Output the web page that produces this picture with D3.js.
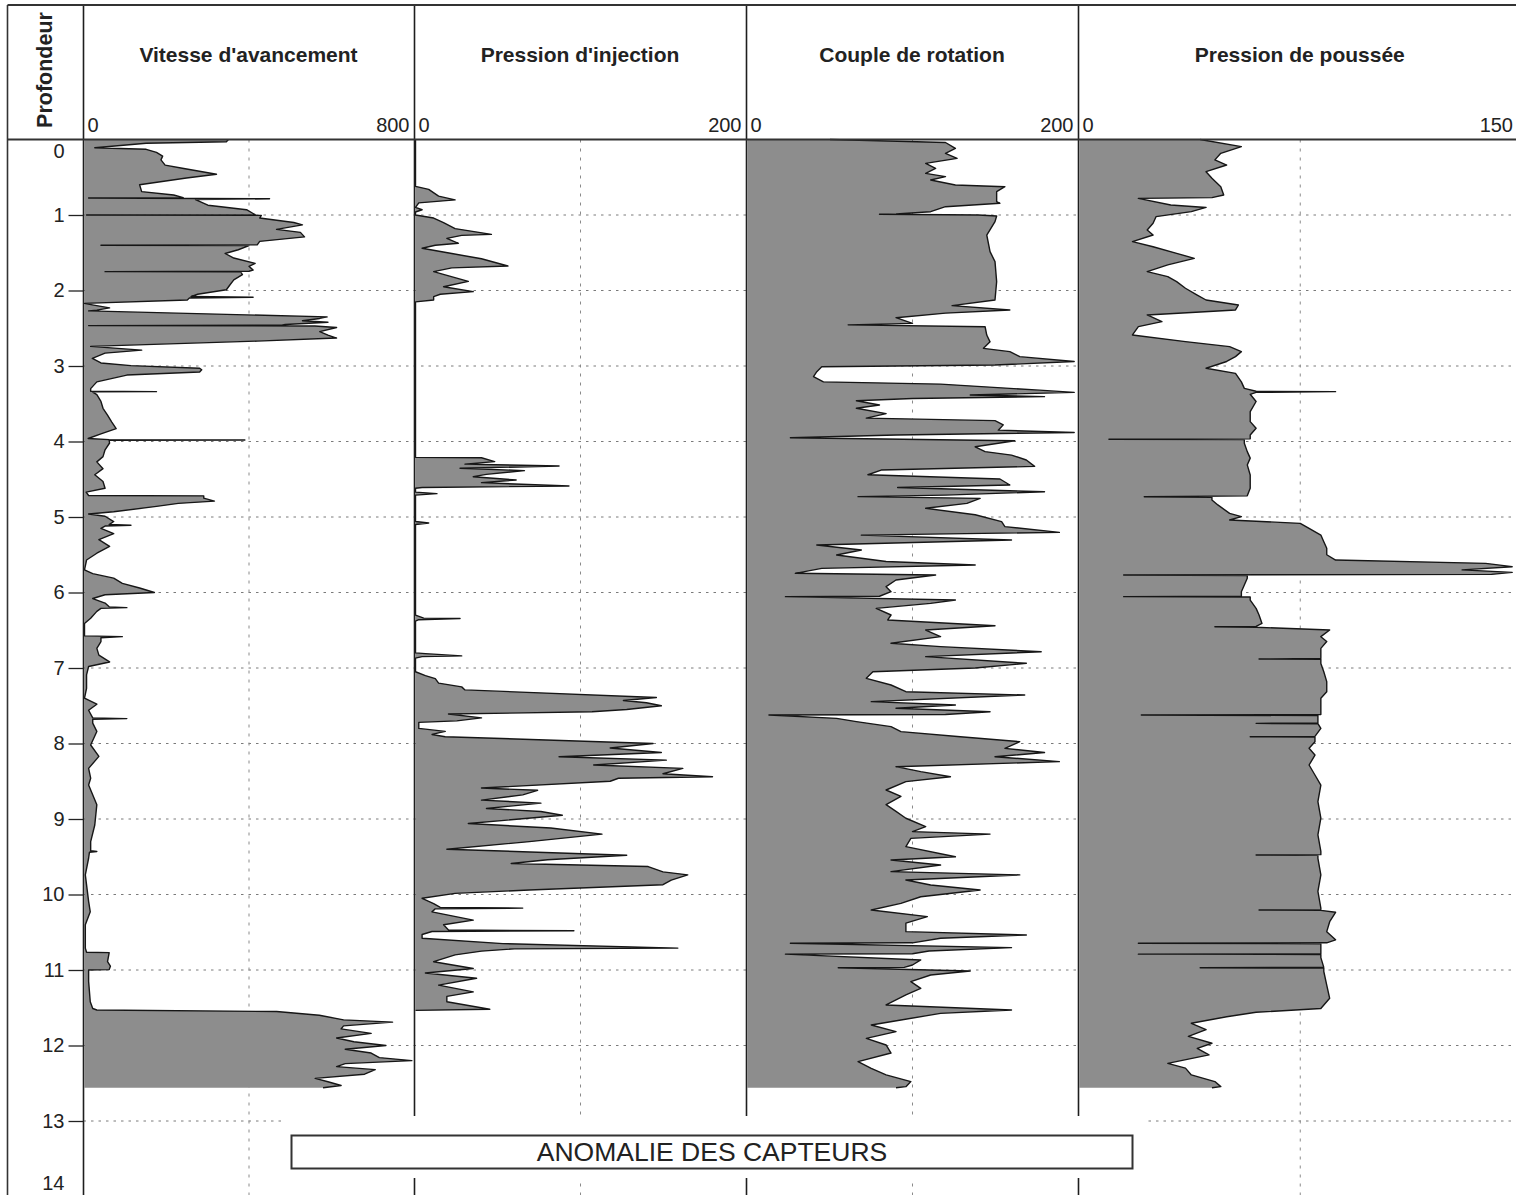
<!DOCTYPE html>
<html>
<head>
<meta charset="utf-8">
<script src="https://cdn.jsdelivr.net/npm/d3@7"></script>
<style>
  body { margin: 0; background: #fff; }
  svg { display: block; }
  text { font-family: "Liberation Sans", Arial, Helvetica, sans-serif; fill: #222; }
</style>
</head>
<body>
<svg id="chart" width="1516" height="1195"></svg>
<script>
// ---- data: [depth (m), value] ----
const depthTicks = d3.range(0, 15);
const depthLabel = "Profondeur";
const panelTitles = ["Vitesse d'avancement", "Pression d'injection", "Couple de rotation", "Pression de poussée"];
const panelMax = [800, 200, 200, 150];
const sensorNote = "ANOMALIE DES CAPTEURS";

const vitesse = [
  [0,350],[0.03,345],[0.05,150],[0.11,25],[0.13,150],[0.17,175],[0.22,190],[0.27,186],[0.34,196],[0.38,238],
  [0.46,321],[0.51,248],[0.60,134],[0.69,139],[0.735,217],[0.77,240],[0.775,10],[0.785,450],[0.795,270],[0.87,300],
  [0.89,332],[0.93,394],[0.98,410],[0.995,415],[1.0,5],[1.005,430],[1.04,426],[1.10,509],[1.13,530],[1.19,467],
  [1.23,525],[1.29,535],[1.35,426],[1.395,420],[1.40,40],[1.405,400],[1.46,374],[1.51,342],[1.57,363],[1.64,415],
  [1.68,400],[1.73,410],[1.745,400],[1.75,50],[1.755,380],[1.79,384],[1.86,363],[1.93,353],[1.99,345],[2.05,275],
  [2.08,259],[2.09,410],[2.10,255],[2.125,250],[2.17,0],[2.19,19],[2.23,61],[2.26,30],[2.27,10],[2.35,590],
  [2.37,572],[2.40,530],[2.42,592],[2.45,488],[2.46,480],[2.465,10],[2.47,560],[2.49,613],[2.545,572],[2.59,592],
  [2.63,613],[2.67,420],[2.74,15],[2.79,139],[2.83,50],[2.90,19],[2.96,40],[2.995,113],[3.03,280],[3.05,285],
  [3.08,280],[3.12,103],[3.21,30],[3.30,15],[3.335,15],[3.34,175],[3.345,20],[3.38,30],[3.47,40],[3.56,45],
  [3.65,56],[3.74,66],[3.83,77],[3.90,40],[3.96,9],[3.975,60],[3.98,390],[3.985,60],[4.02,61],[4.11,50],
  [4.20,45],[4.27,30],[4.36,45],[4.44,25],[4.53,45],[4.62,50],[4.67,4],[4.715,10],[4.72,290],[4.75,290],
  [4.79,316],[4.82,228],[4.86,175],[4.93,71],[4.96,10],[4.99,50],[5.06,71],[5.10,60],[5.11,113],[5.12,50],
  [5.15,40],[5.22,71],[5.30,35],[5.39,61],[5.48,30],[5.57,5],[5.70,0],[5.75,20],[5.81,71],[5.88,92],
  [5.94,134],[6.0,170],[6.03,50],[6.08,20],[6.14,50],[6.19,60],[6.20,103],[6.21,40],[6.25,30],[6.34,15],
  [6.41,0],[6.575,0],[6.585,92],[6.60,40],[6.65,40],[6.74,30],[6.83,35],[6.92,61],[6.98,10],[7.09,5],
  [7.27,5],[7.40,0],[7.48,30],[7.56,10],[7.66,20],[7.67,103],[7.68,20],[7.73,20],[7.84,30],[8.02,15],
  [8.17,35],[8.33,10],[8.46,15],[8.55,10],[8.81,30],[9.08,25],[9.30,15],[9.42,15],[9.43,30],[9.44,12],
  [9.52,10],[9.74,2],[10.09,10],[10.23,14],[10.40,2],[10.71,2],[10.765,5],[10.77,60],[10.89,56],[10.95,63],
  [10.995,60],[11.0,10],[11.15,10],[11.42,14],[11.51,20],[11.53,30],[11.55,467],[11.60,571],[11.66,630],[11.69,749],
  [11.74,630],[11.78,624],[11.84,697],[11.90,613],[11.95,655],[12.0,733],[12.05,634],[12.10,697],[12.16,717],[12.20,796],
  [12.24,634],[12.28,613],[12.32,707],[12.38,681],[12.435,561],[12.48,592],[12.53,624],[12.56,580]
];

const injection = [
  [0,0],[0.62,0],[0.66,8],[0.75,14],[0.80,24],[0.84,2],[0.90,0],[0.93,4],[0.96,0],[1.0,0],
  [1.04,11],[1.10,17],[1.18,24],[1.256,46],[1.27,28],[1.31,19],[1.375,26],[1.40,12],[1.44,4],[1.51,22],
  [1.58,40],[1.675,56],[1.70,22],[1.75,11],[1.88,32],[1.95,17],[2.015,35],[2.05,15],[2.08,11],[2.125,11],
  [2.15,0],[4.21,0],[4.215,40],[4.267,48],[4.30,30],[4.325,87],[4.355,27],[4.386,66],[4.435,43],[4.466,35],
  [4.51,61],[4.545,40],[4.59,93],[4.61,4],[4.62,0],[4.67,0],[4.69,13],[4.71,0],[5.06,0],[5.08,8],
  [5.10,0],[6.30,0],[6.34,5],[6.345,27],[6.36,2],[6.38,0],[6.80,0],[6.81,6],[6.84,28],[6.85,4],
  [6.87,0],[7.05,0],[7.10,6],[7.14,12],[7.20,14],[7.25,28],[7.29,30],[7.39,146],[7.43,126],[7.46,140],
  [7.50,149],[7.55,128],[7.58,107],[7.61,20],[7.66,40],[7.70,25],[7.72,2],[7.80,2],[7.84,18],[7.88,10],
  [7.91,18],[8.0,144],[8.06,118],[8.12,149],[8.175,87],[8.22,152],[8.285,108],[8.33,162],[8.40,150],[8.44,180],
  [8.46,123],[8.50,118],[8.59,40],[8.62,74],[8.68,65],[8.75,40],[8.79,76],[8.86,43],[8.90,76],[8.95,89],
  [9.06,32],[9.12,82],[9.20,113],[9.30,69],[9.40,19],[9.48,128],[9.54,80],[9.59,58],[9.63,141],[9.70,150],
  [9.74,165],[9.81,155],[9.87,150],[9.94,69],[9.985,24],[10.05,4],[10.12,11],[10.17,15],[10.18,65],[10.19,12],
  [10.23,10],[10.34,35],[10.40,17],[10.47,20],[10.48,96],[10.49,10],[10.53,4],[10.58,4],[10.65,53],[10.71,159],
  [10.72,60],[10.75,40],[10.80,24],[10.89,11],[10.98,35],[11.04,6],[11.11,37],[11.20,14],[11.29,35],[11.35,19],
  [11.42,19],[11.52,45],[11.535,0]
];

const couple = [
  [0,50],[0.04,120],[0.117,126],[0.183,120],[0.25,127],[0.316,108],[0.382,114],[0.448,108],[0.492,120],[0.536,111],
  [0.603,126],[0.625,156],[0.69,151],[0.823,151],[0.845,153],[0.89,120],[0.956,111],[0.985,90],[0.99,80],[1.0,140],
  [1.013,151],[1.088,150],[1.265,145],[1.485,147],[1.618,150],[1.883,151],[2.126,150],[2.20,124],[2.258,159],[2.30,120],
  [2.36,90],[2.435,100],[2.455,61],[2.48,144],[2.59,145],[2.68,147],[2.766,143],[2.81,159],[2.876,165],[2.94,198],
  [2.987,150],[3.01,45],[3.075,42],[3.14,40],[3.21,46],[3.24,117],[3.32,177],[3.35,198],[3.384,135],[3.406,180],
  [3.43,100],[3.46,66],[3.516,80],[3.56,66],[3.63,84],[3.69,72],[3.724,150],[3.78,155],[3.85,152],[3.88,198],
  [3.914,90],[3.95,26],[3.99,162],[4.07,138],[4.134,144],[4.18,160],[4.245,169],[4.33,174],[4.378,81],[4.44,73],
  [4.497,153],[4.576,159],[4.61,91],[4.665,180],[4.71,120],[4.73,67],[4.753,141],[4.82,133],[4.885,108],[4.97,138],
  [5.062,154],[5.128,156],[5.203,189],[5.24,69],[5.305,160],[5.37,42],[5.437,69],[5.503,54],[5.59,84],[5.636,138],
  [5.68,45],[5.746,29],[5.768,114],[5.835,90],[5.923,84],[5.989,87],[6.05,80],[6.055,23],[6.10,126],[6.144,111],
  [6.21,78],[6.298,87],[6.364,85],[6.44,150],[6.497,108],[6.585,117],[6.673,87],[6.717,117],[6.784,178],[6.85,108],
  [6.938,169],[7.0,138],[7.049,76],[7.137,72],[7.225,87],[7.314,96],[7.358,168],[7.446,75],[7.49,126],[7.534,90],
  [7.579,147],[7.615,120],[7.623,13],[7.667,54],[7.71,66],[7.777,87],[7.843,93],[7.91,129],[7.976,165],[8.064,156],
  [8.12,180],[8.175,150],[8.24,189],[8.307,90],[8.373,105],[8.44,123],[8.505,96],[8.616,84],[8.70,93],[8.81,84],
  [8.90,90],[8.99,96],[9.10,108],[9.167,100],[9.20,147],[9.256,99],[9.366,96],[9.50,126],[9.543,87],[9.61,117],
  [9.697,87],[9.74,165],[9.808,96],[9.874,111],[9.94,141],[10.03,105],[10.117,93],[10.205,75],[10.293,109],[10.38,96],
  [10.492,96],[10.536,169],[10.58,117],[10.64,100],[10.646,26],[10.704,160],[10.748,110],[10.785,100],[10.79,23],[10.867,105],
  [10.934,100],[10.965,95],[10.97,55],[11.013,135],[11.066,111],[11.154,99],[11.243,105],[11.33,96],[11.463,84],[11.53,160],
  [11.574,117],[11.662,93],[11.728,75],[11.817,90],[11.905,72],[11.993,84],[12.10,87],[12.214,67],[12.302,75],[12.39,84],
  [12.478,99],[12.545,96],[12.56,90]
];

const poussee = [
  [0,41],[0.095,55],[0.183,48],[0.27,46],[0.338,50],[0.426,43],[0.514,45],[0.625,48],[0.735,49],[0.77,45],
  [0.78,20],[0.868,31],[0.90,43],[0.956,38],[1.022,26],[1.11,25],[1.198,23],[1.265,25],[1.353,18],[1.42,25],
  [1.508,33],[1.574,39],[1.66,30],[1.75,23],[1.816,30],[1.883,33],[1.97,36],[2.06,40],[2.126,43],[2.192,54],
  [2.258,53],[2.324,23],[2.413,28],[2.479,20],[2.589,18],[2.677,36],[2.744,51],[2.81,55],[2.876,53],[2.94,50],
  [3.03,43],[3.097,53],[3.21,55],[3.296,56],[3.335,60],[3.34,87],[3.35,60],[3.375,58],[3.47,60],[3.605,58],
  [3.737,58],[3.825,60],[3.914,58],[3.965,58],[3.97,10],[3.975,56],[4.024,56],[4.134,57],[4.22,58],[4.31,57],
  [4.444,58],[4.62,58],[4.72,57],[4.731,22],[4.74,45],[4.775,45],[4.84,47],[4.952,51],[4.996,55],[5.04,51],
  [5.084,75],[5.15,78],[5.239,82],[5.327,83],[5.415,84],[5.50,84],[5.57,87],[5.614,138],[5.658,147],[5.70,130],
  [5.733,147],[5.76,140],[5.768,15],[5.775,57],[5.812,57],[5.90,56],[5.99,55],[6.05,55],[6.055,15],[6.06,58],
  [6.10,58],[6.21,60],[6.298,61],[6.41,62],[6.45,60],[6.453,46],[6.46,60],[6.497,85],[6.585,82],[6.65,84],
  [6.74,82],[6.828,82],[6.875,82],[6.88,61],[6.885,82],[6.94,82],[7.049,83],[7.18,84],[7.314,84],[7.40,82],
  [7.534,82],[7.615,82],[7.623,21],[7.63,81],[7.667,81],[7.728,81],[7.733,60],[7.738,81],[7.80,82],[7.905,80],
  [7.91,58],[7.915,80],[7.976,80],[8.064,78],[8.153,80],[8.285,78],[8.417,80],[8.55,82],[8.77,81],[8.99,82],
  [9.21,81],[9.43,82],[9.472,82],[9.477,60],[9.482,81],[9.52,81],[9.74,82],[9.96,81],[10.18,82],[10.2,82],
  [10.205,61],[10.21,82],[10.236,87],[10.36,85],[10.492,84],[10.60,87],[10.64,84],[10.646,20],[10.652,82],[10.69,82],
  [10.785,82],[10.79,20],[10.795,82],[10.836,82],[10.965,83],[10.97,41],[10.975,83],[11.02,83],[11.2,84],[11.375,85],
  [11.51,82],[11.56,60],[11.62,50],[11.706,38],[11.79,43],[11.88,37],[11.97,45],[12.037,40],[12.125,44],[12.236,30],
  [12.30,36],[12.39,38],[12.478,46],[12.545,48],[12.56,45]
];

const panelSeries = [vitesse, injection, couple, poussee];

// ---- layout ----
const W = 1516, H = 1195;
const frameTop = 5, headerBottom = 139.5, frameLeft = 7.5, axisX = 83.5;
const panelLeft = [83.5, 414.5, 746.5, 1078.5];
const panelRight = [413.5, 745.5, 1077.5, 1521];

const svg = d3.select("#chart");
const y = d3.scaleLinear().domain([0, 14]).range([139.5, 1196.5]);

const panels = panelTitles.map((title, i) => ({
  title,
  max: panelMax[i],
  data: panelSeries[i],
  left: panelLeft[i],
  right: panelRight[i],
  x: d3.scaleLinear().domain([0, panelMax[i]]).range([panelLeft[i] + 1, panelRight[i]])
}));

// horizontal grid at each metre
svg.append("g")
  .selectAll("line")
  .data(depthTicks.filter(d => d > 0 && d < 14))
  .join("line")
  .attr("x1", axisX).attr("x2", W)
  .attr("y1", d => y(d)).attr("y2", d => y(d))
  .attr("stroke", "#7a7a7a").attr("stroke-width", 1)
  .attr("stroke-dasharray", "2.5,5");

// vertical grid at the middle of each track
svg.append("g")
  .selectAll("line")
  .data(panels)
  .join("line")
  .attr("x1", p => p.x(p.max / 2)).attr("x2", p => p.x(p.max / 2))
  .attr("y1", headerBottom).attr("y2", H)
  .attr("stroke", "#8a8a8a").attr("stroke-width", 1)
  .attr("stroke-dasharray", "3,6");

// filled logs
const tracks = svg.append("g").selectAll("g").data(panels).join("g");
tracks.append("path")
  .attr("d", p => d3.area()
      .y(d => y(d[0]))
      .x0(p.x(0))
      .x1(d => p.x(d[1]))(p.data))
  .attr("fill", "#8d8d8d");
tracks.append("path")
  .attr("d", p => d3.line()
      .y(d => y(d[0]))
      .x(d => p.x(d[1]))(p.data))
  .attr("fill", "none")
  .attr("stroke", "#161616")
  .attr("stroke-width", 1.4)
  .attr("stroke-linejoin", "round");

// track borders
svg.append("g")
  .selectAll("line")
  .data(panelLeft)
  .join("line")
  .attr("x1", d => d).attr("x2", d => d)
  .attr("y1", frameTop).attr("y2", H)
  .attr("stroke", "#1e1e1e").attr("stroke-width", 1.6);

// frame
svg.append("line").attr("x1", frameLeft).attr("x2", W).attr("y1", frameTop).attr("y2", frameTop)
  .attr("stroke", "#333").attr("stroke-width", 2);
svg.append("line").attr("x1", frameLeft).attr("x2", W).attr("y1", headerBottom).attr("y2", headerBottom)
  .attr("stroke", "#333").attr("stroke-width", 2);
svg.append("line").attr("x1", frameLeft).attr("x2", frameLeft).attr("y1", frameTop).attr("y2", H)
  .attr("stroke", "#333").attr("stroke-width", 1.6);

// depth axis
const axisG = svg.append("g")
  .attr("transform", `translate(${axisX},0)`)
  .call(d3.axisLeft(y).tickValues(depthTicks).tickSize(15).tickPadding(4).tickFormat(d3.format("d")));
axisG.select(".domain").remove();
axisG.selectAll(".tick line").attr("stroke", "#222").attr("stroke-width", 1.3);
axisG.selectAll(".tick text")
  .attr("font-size", 20)
  .attr("fill", "#222")
  .style("font-family", '"Liberation Sans", Arial, sans-serif');
axisG.selectAll(".tick").filter(d => d === 0).select("line").remove();
axisG.selectAll(".tick").filter(d => d === 0).select("text").attr("y", 11.5);
axisG.selectAll(".tick").filter(d => d === 14).select("text").attr("y", -13.5);

// depth header
svg.append("text")
  .attr("transform", `translate(52,70) rotate(-90)`)
  .attr("text-anchor", "middle")
  .attr("font-size", 21.5)
  .attr("font-weight", "bold")
  .text(depthLabel);

// track headers
const heads = svg.append("g").selectAll("g").data(panels).join("g");
heads.append("text")
  .attr("x", p => (p.left + p.right) / 2)
  .attr("y", 62)
  .attr("text-anchor", "middle")
  .attr("font-size", 21)
  .attr("font-weight", "bold")
  .attr("fill", "#2a2a2a")
  .text(p => p.title);
heads.append("text")
  .attr("x", p => p.x(0) + 3)
  .attr("y", 132)
  .attr("font-size", 20)
  .text(p => d3.format("d")(p.x.domain()[0]));
heads.append("text")
  .attr("x", p => Math.min(p.right - 4, W - 3))
  .attr("y", 132)
  .attr("text-anchor", "end")
  .attr("font-size", 20)
  .text(p => d3.format("d")(p.max));

// sensor fault note below the logs
svg.append("rect")
  .attr("x", 283).attr("y", 1116).attr("width", 862).attr("height", 62)
  .attr("fill", "#fff");
svg.append("rect")
  .attr("x", 291.5).attr("y", 1135.5).attr("width", 841).attr("height", 33)
  .attr("fill", "#fff").attr("stroke", "#333").attr("stroke-width", 2);
svg.append("text")
  .attr("x", 712).attr("y", 1161)
  .attr("text-anchor", "middle")
  .attr("font-size", 26.5)
  .text(sensorNote);
</script>
</body>
</html>
